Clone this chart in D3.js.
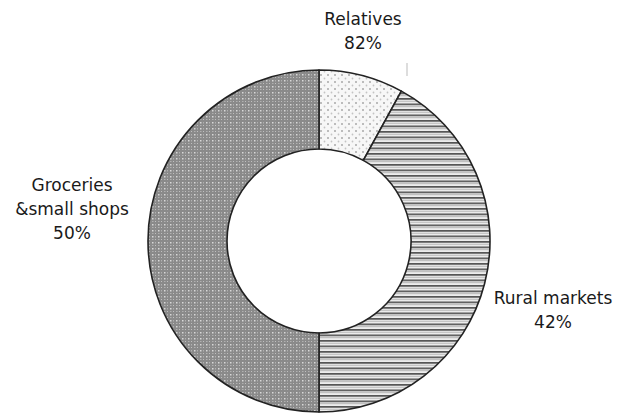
<!DOCTYPE html>
<html>
<head>
<meta charset="utf-8">
<script src="https://cdn.jsdelivr.net/npm/d3@7"></script>
<style>
  html, body { margin: 0; padding: 0; background: #fff; }
  svg { display: block; }
  .lbl { font-family: "DejaVu Sans", sans-serif; font-size: 17px; fill: #1a1a1a; }
</style>
</head>
<body>
<svg id="chart" width="625" height="417"></svg>
<script>
// Where the goods are sold (share of respondents, %)
const categories = ["Relatives", "Rural markets", "Groceries &small shops"];
const shares = [8, 42, 50];
const shareLabels = ["82%", "42%", "50%"];
const labelLines = [["Relatives"], ["Rural markets"], ["Groceries", "&small shops"]];

const width = 625, height = 417;
const cx = 319, cy = 241, outerR = 171, innerR = 92;

const svg = d3.select("#chart");
const defs = svg.append("defs");

// Dotted fill
const pDots = defs.append("pattern").attr("id", "p-dots")
  .attr("patternUnits", "userSpaceOnUse").attr("width", 7).attr("height", 7);
pDots.append("rect").attr("width", 7).attr("height", 7).attr("fill", "#f7f7f7");
pDots.append("circle").attr("cx", 2).attr("cy", 2).attr("r", 1).attr("fill", "#a8a8a8");
pDots.append("circle").attr("cx", 5.5).attr("cy", 5.5).attr("r", 0.9).attr("fill", "#c4c4c4");

// Horizontal stripes
const pStripes = defs.append("pattern").attr("id", "p-stripes")
  .attr("patternUnits", "userSpaceOnUse").attr("width", 8).attr("height", 5.5);
pStripes.append("rect").attr("width", 8).attr("height", 5.5).attr("fill", "#ededed");
pStripes.append("rect").attr("y", 0).attr("width", 8).attr("height", 1.7).attr("fill", "#555");
pStripes.append("rect").attr("y", 2.8).attr("width", 8).attr("height", 0.9).attr("fill", "#b0b0b0");

// Grid / weave fill
const pGrid = defs.append("pattern").attr("id", "p-grid")
  .attr("patternUnits", "userSpaceOnUse").attr("width", 6).attr("height", 6);
pGrid.append("rect").attr("width", 6).attr("height", 6).attr("fill", "#8a8a8a");
pGrid.append("rect").attr("x", 1).attr("y", 1).attr("width", 1.5).attr("height", 1.5).attr("fill", "#d8d8d8");
pGrid.append("rect").attr("x", 4).attr("y", 4).attr("width", 1).attr("height", 1).attr("fill", "#c0c0c0");
pGrid.append("rect").attr("x", 4).attr("y", 1).attr("width", 1).attr("height", 1.5).attr("fill", "#b0b0b0");
pGrid.append("rect").attr("x", 1).attr("y", 4).attr("width", 1.5).attr("height", 1).attr("fill", "#b0b0b0");

const fills = ["url(#p-dots)", "url(#p-stripes)", "url(#p-grid)"];

const pie = d3.pie().sort(null).value(d => d);
const arc = d3.arc().innerRadius(innerR).outerRadius(outerR);
const arcs = pie(shares);

const g = svg.append("g").attr("transform", `translate(${cx},${cy})`);
g.selectAll("path.slice")
  .data(arcs)
  .join("path")
  .attr("class", "slice")
  .attr("d", arc)
  .attr("fill", (d, i) => fills[i])
  .attr("stroke", "#222")
  .attr("stroke-width", 1.6)
  .attr("stroke-linejoin", "round");

// Short leader tick above the small slice
g.append("line")
  .attr("x1", 88).attr("x2", 88)
  .attr("y1", -outerR - 7).attr("y2", -outerR + 6)
  .attr("stroke", "#bbb").attr("stroke-width", 1);

// Labels
const labelPos = [[363, 25], [553, 304], [72, 191]];
const lineH = 24;
arcs.forEach((d, i) => {
  const lines = labelLines[i].concat([shareLabels[i]]);
  const t = svg.append("text").attr("class", "lbl")
    .attr("text-anchor", "middle")
    .attr("x", labelPos[i][0]).attr("y", labelPos[i][1]);
  lines.forEach((s, k) => {
    t.append("tspan").attr("x", labelPos[i][0]).attr("dy", k === 0 ? 0 : lineH).text(s);
  });
});
</script>
</body>
</html>
